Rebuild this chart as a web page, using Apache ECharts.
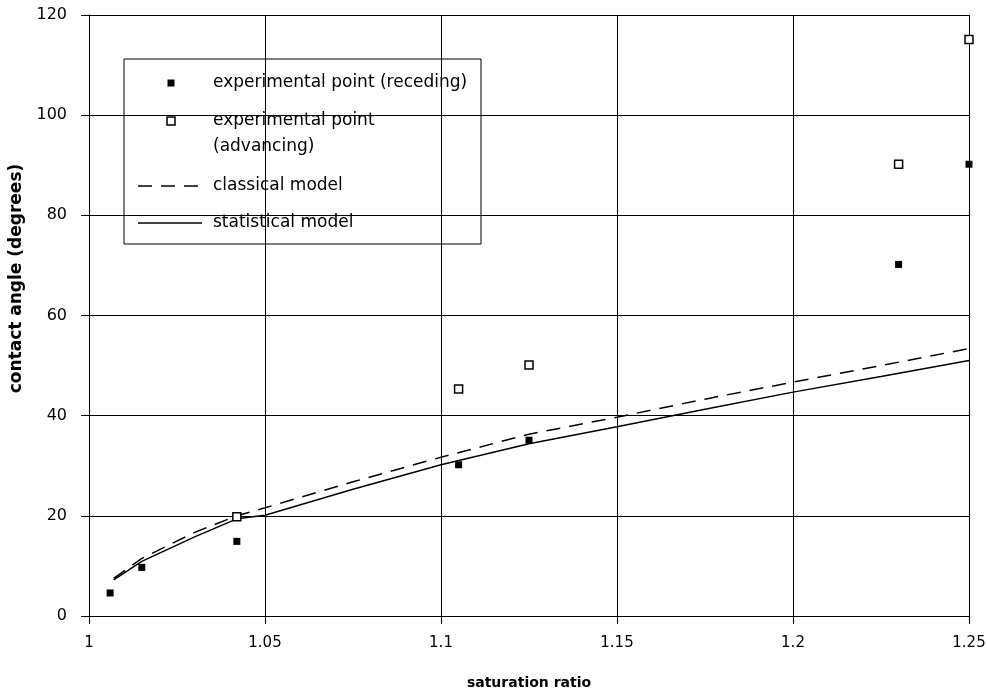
<!DOCTYPE html>
<html><head><meta charset="utf-8">
<script src="https://cdn.jsdelivr.net/npm/echarts@6/dist/echarts.min.js"></script>
<style>html,body{margin:0;padding:0;background:#fff}#c{width:987px;height:690px}</style>
</head><body><div id="c"></div>
<script>
// ---- data ----
const xTickLabels = ['1', '1.05', '1.1', '1.15', '1.2', '1.25'];
const yTickLabels = ['0', '20', '40', '60', '80', '100', '120'];
const recedingX = [1.006, 1.015, 1.042, 1.105, 1.125, 1.23, 1.25];
const recedingY = [4.6, 9.7, 14.9, 30.2, 35.1, 70.2, 90.2];
const advancingX = [1.042, 1.105, 1.125, 1.23, 1.25];
const advancingY = [19.8, 45.3, 50.1, 90.2, 115.1];
const classicalX = [1.007, 1.015, 1.03, 1.042, 1.05, 1.075, 1.1, 1.125, 1.15, 1.175, 1.2, 1.225, 1.25];
const classicalY = [7.5, 11.5, 16.7, 20.0, 21.6, 26.8, 31.7, 36.3, 39.7, 43.3, 46.7, 50.0, 53.4];
const statisticalX = [1.007, 1.015, 1.03, 1.042, 1.05, 1.075, 1.1, 1.125, 1.15, 1.175, 1.2, 1.225, 1.25];
const statisticalY = [7.2, 10.9, 15.8, 19.4, 20.1, 25.3, 30.2, 34.4, 37.8, 41.3, 44.7, 47.8, 51.0];
const seriesNames = ['experimental point (receding)', 'experimental point\n(advancing)', 'classical model', 'statistical model'];
const xAxisName = 'saturation ratio';
const yAxisName = 'contact angle (degrees)';

const zip = (xs, ys) => xs.map((x, i) => [x, ys[i]]);
const FONT = 'DejaVu Sans';

const chart = echarts.init(document.getElementById('c'), null, {renderer: 'canvas'});
const legendX = 124, legendY = 59, legendW = 357, legendH = 185;
const iconCx = 171, textX = 213;
const rowsY = [83, 121, 186, 223];
const legendFont = '17px "DejaVu Sans"';

chart.setOption({
  animation: false,
  backgroundColor: '#fff',
  grid: {left: 89, right: 18, top: 15, bottom: 74, containLabel: false, outerBoundsMode: 'none'},
  xAxis: {
    type: 'value', min: 1, max: 1.25, interval: 0.05,
    name: xAxisName, nameLocation: 'middle', nameGap: 60,
    nameTextStyle: {fontFamily: FONT, fontWeight: 'bold', fontSize: 14, color: '#000'},
    axisLine: {show: true, lineStyle: {color: '#000', width: 1}},
    axisTick: {show: true, inside: false, length: 8, lineStyle: {color: '#000'}},
    axisLabel: {margin: 20, fontFamily: FONT, fontSize: 15, color: '#000',
      formatter: (v) => { const i = Math.round((v - 1) / 0.05); return xTickLabels[i] !== undefined ? xTickLabels[i] : ''; }},
    splitLine: {show: true, lineStyle: {color: '#000', width: 1}}
  },
  yAxis: {
    type: 'value', min: 0, max: 120, interval: 20,
    name: yAxisName, nameLocation: 'middle', nameGap: 63,
    nameTextStyle: {fontFamily: FONT, fontWeight: 'bold', fontSize: 17, color: '#000', padding: [0, 0, 0, 74]},
    axisLine: {show: true, lineStyle: {color: '#000', width: 1}},
    axisTick: {show: true, inside: false, length: 8, lineStyle: {color: '#000'}},
    axisLabel: {margin: 22, fontFamily: FONT, fontSize: 16, color: '#000',
      formatter: (v) => { const i = Math.round(v / 20); return yTickLabels[i] !== undefined ? yTickLabels[i] : ''; }},
    splitLine: {show: true, lineStyle: {color: '#000', width: 1}}
  },
  series: [
    {name: seriesNames[2], type: 'line', data: zip(classicalX, classicalY), showSymbol: false, smooth: false,
      lineStyle: {color: '#000', width: 1.5, type: [14, 9]}, z: 3},
    {name: seriesNames[3], type: 'line', data: zip(statisticalX, statisticalY), showSymbol: false, smooth: false,
      lineStyle: {color: '#000', width: 1.5}, z: 3},
    {name: seriesNames[0], type: 'scatter', data: zip(recedingX, recedingY), symbol: 'rect', symbolSize: 7,
      itemStyle: {color: '#000', opacity: 1}, z: 5},
    {name: seriesNames[1], type: 'scatter', data: zip(advancingX, advancingY), symbol: 'rect', symbolSize: 8,
      itemStyle: {color: '#fff', borderColor: '#000', borderWidth: 1.5, opacity: 1}, z: 6}
  ],
  graphic: [{
    type: 'group', z: 100,
    children: [
      {type: 'rect', shape: {x: legendX, y: legendY, width: legendW, height: legendH},
        style: {fill: '#fff', stroke: '#000', lineWidth: 1}},
      {type: 'rect', shape: {x: iconCx - 3.5, y: rowsY[0] - 3.5, width: 7, height: 7}, style: {fill: '#000'}},
      {type: 'rect', shape: {x: iconCx - 4, y: rowsY[1] - 4, width: 8, height: 8},
        style: {fill: '#fff', stroke: '#000', lineWidth: 1.5}},
      {type: 'line', shape: {x1: 138, y1: rowsY[2], x2: 202, y2: rowsY[2]},
        style: {stroke: '#000', lineWidth: 1.5, lineDash: [14, 9]}},
      {type: 'line', shape: {x1: 138, y1: rowsY[3], x2: 202, y2: rowsY[3]},
        style: {stroke: '#000', lineWidth: 1.5}},
      {type: 'text', x: textX, y: rowsY[0], style: {text: seriesNames[0], font: legendFont, fill: '#000', verticalAlign: 'middle'}},
      {type: 'text', x: textX, y: rowsY[1] - 13, style: {text: seriesNames[1], font: legendFont, lineHeight: 26, fill: '#000', verticalAlign: 'top'}},
      {type: 'text', x: textX, y: rowsY[2], style: {text: seriesNames[2], font: legendFont, fill: '#000', verticalAlign: 'middle'}},
      {type: 'text', x: textX, y: rowsY[3], style: {text: seriesNames[3], font: legendFont, fill: '#000', verticalAlign: 'middle'}}
    ]
  }]
});
</script></body></html>
